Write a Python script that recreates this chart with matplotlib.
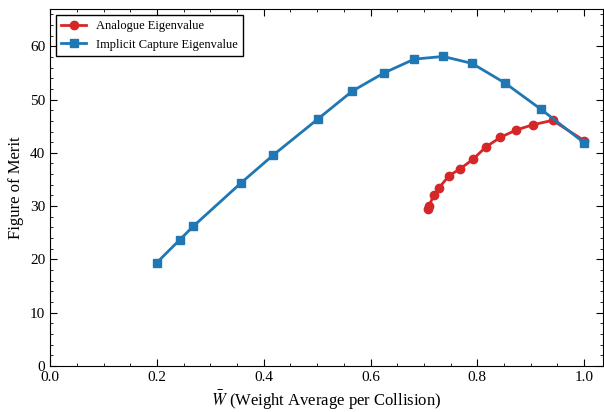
import matplotlib
matplotlib.use('Agg')
import matplotlib.pyplot as plt
from matplotlib.ticker import MultipleLocator

# 数据
analogue_w = [0.708, 0.710, 0.718, 0.728, 0.747, 0.768, 0.792, 0.816, 0.843, 0.873, 0.905, 0.941, 1.0]
analogue_fom = [29.4, 30.1, 32.0, 33.4, 35.7, 37.0, 38.8, 41.1, 42.9, 44.3, 45.3, 46.1, 42.3]

implicit_w = [0.2, 0.243, 0.268, 0.358, 0.418, 0.502, 0.566, 0.625, 0.682, 0.736, 0.79, 0.852, 0.919, 1.0]
implicit_fom = [19.4, 23.7, 26.2, 34.4, 39.6, 46.4, 51.6, 55.0, 57.6, 58.1, 56.8, 53.1, 48.2, 41.9]

plt.rcParams['font.family'] = ['Liberation Serif', 'DejaVu Serif']
plt.rcParams['mathtext.fontset'] = 'stix'

fig = plt.figure(figsize=(6.04, 4.12), dpi=100)
ax = fig.add_axes([0.083, 0.112, 0.915, 0.866])

ax.plot(analogue_w, analogue_fom, '-o', color='#d62728', lw=2, ms=6, label='Analogue Eigenvalue')
ax.plot(implicit_w, implicit_fom, '-s', color='#1f77b4', lw=2, ms=6, label='Implicit Capture Eigenvalue')

ax.set_xlim(0, 1.035)
ax.set_ylim(0, 67)
ax.xaxis.set_major_locator(MultipleLocator(0.2))
ax.xaxis.set_minor_locator(MultipleLocator(0.05))
ax.yaxis.set_major_locator(MultipleLocator(10))
ax.yaxis.set_minor_locator(MultipleLocator(2))
ax.tick_params(which='both', direction='in', top=True, right=True, labelsize=11)
ax.tick_params(which='major', length=5)
ax.tick_params(which='minor', length=2.5)

ax.set_xlabel(r'$\bar{W}$ (Weight Average per Collision)', fontsize=12)
ax.set_ylabel('Figure of Merit', fontsize=12)

leg = ax.legend(loc='upper left', fontsize=9, fancybox=False, edgecolor='black', framealpha=1)
leg.get_frame().set_linewidth(1)

fig.savefig('out.png', dpi=100)
